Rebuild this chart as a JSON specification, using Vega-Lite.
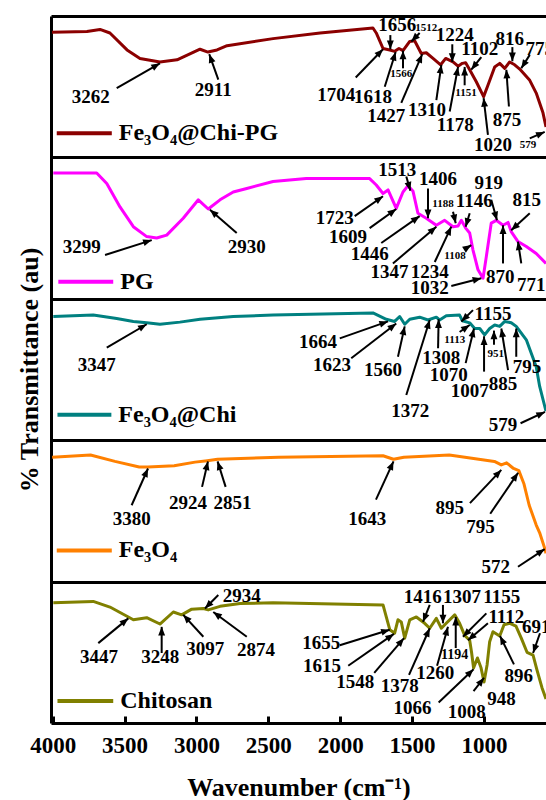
{
"$schema": "https://vega.github.io/schema/vega-lite/v6.json",
"width": 495, "height": 707,
"autosize": {"type": "none"},
"padding": {"left": 51, "top": 16, "right": 0, "bottom": 77},
"background": "white",
"config": {"view": {"stroke": null},
 "axis": {"labelFont": "Liberation Serif", "titleFont": "Liberation Serif", "labelFontWeight": "bold", "titleFontWeight": "bold", "labelColor": "black", "titleColor": "black", "domainColor": "black", "tickColor": "black"},
 "text": {"font": "Liberation Serif", "fontWeight": "bold", "color": "black"}},
"datasets": {
"spectra": [
{"s":"Fe₃O₄@Chi-PG","wn":4005,"v":97.7},{"s":"Fe₃O₄@Chi-PG","wn":3762,"v":97.8},{"s":"Fe₃O₄@Chi-PG","wn":3671,"v":98.1},{"s":"Fe₃O₄@Chi-PG","wn":3602,"v":97.6},{"s":"Fe₃O₄@Chi-PG","wn":3483,"v":95.2},{"s":"Fe₃O₄@Chi-PG","wn":3393,"v":94.0},{"s":"Fe₃O₄@Chi-PG","wn":3254,"v":93.5},{"s":"Fe₃O₄@Chi-PG","wn":3135,"v":93.8},{"s":"Fe₃O₄@Chi-PG","wn":2975,"v":95.3},{"s":"Fe₃O₄@Chi-PG","wn":2920,"v":94.9},{"s":"Fe₃O₄@Chi-PG","wn":2857,"v":95.2},{"s":"Fe₃O₄@Chi-PG","wn":2787,"v":95.8},{"s":"Fe₃O₄@Chi-PG","wn":2467,"v":96.8},{"s":"Fe₃O₄@Chi-PG","wn":2140,"v":97.6},{"s":"Fe₃O₄@Chi-PG","wn":1772,"v":98.3},{"s":"Fe₃O₄@Chi-PG","wn":1749,"v":97.6},{"s":"Fe₃O₄@Chi-PG","wn":1702,"v":95.4},{"s":"Fe₃O₄@Chi-PG","wn":1655,"v":95.2},{"s":"Fe₃O₄@Chi-PG","wn":1621,"v":95.0},{"s":"Fe₃O₄@Chi-PG","wn":1591,"v":95.4},{"s":"Fe₃O₄@Chi-PG","wn":1563,"v":95.1},{"s":"Fe₃O₄@Chi-PG","wn":1516,"v":96.4},{"s":"Fe₃O₄@Chi-PG","wn":1482,"v":96.5},{"s":"Fe₃O₄@Chi-PG","wn":1436,"v":94.7},{"s":"Fe₃O₄@Chi-PG","wn":1401,"v":94.8},{"s":"Fe₃O₄@Chi-PG","wn":1354,"v":94.0},{"s":"Fe₃O₄@Chi-PG","wn":1301,"v":93.1},{"s":"Fe₃O₄@Chi-PG","wn":1266,"v":94.0},{"s":"Fe₃O₄@Chi-PG","wn":1215,"v":93.5},{"s":"Fe₃O₄@Chi-PG","wn":1180,"v":92.9},{"s":"Fe₃O₄@Chi-PG","wn":1150,"v":93.3},{"s":"Fe₃O₄@Chi-PG","wn":1127,"v":93.4},{"s":"Fe₃O₄@Chi-PG","wn":1099,"v":92.4},{"s":"Fe₃O₄@Chi-PG","wn":1053,"v":90.7},{"s":"Fe₃O₄@Chi-PG","wn":1002,"v":88.6},{"s":"Fe₃O₄@Chi-PG","wn":972,"v":90.2},{"s":"Fe₃O₄@Chi-PG","wn":925,"v":92.8},{"s":"Fe₃O₄@Chi-PG","wn":890,"v":93.3},{"s":"Fe₃O₄@Chi-PG","wn":855,"v":92.6},{"s":"Fe₃O₄@Chi-PG","wn":821,"v":93.5},{"s":"Fe₃O₄@Chi-PG","wn":786,"v":93.1},{"s":"Fe₃O₄@Chi-PG","wn":751,"v":92.5},{"s":"Fe₃O₄@Chi-PG","wn":681,"v":90.9},{"s":"Fe₃O₄@Chi-PG","wn":636,"v":89.1},{"s":"Fe₃O₄@Chi-PG","wn":589,"v":86.3},{"s":"Fe₃O₄@Chi-PG","wn":568,"v":84.3},
{"s":"PG","wn":3996,"v":77.8},{"s":"PG","wn":3694,"v":77.8},{"s":"PG","wn":3624,"v":76.3},{"s":"PG","wn":3532,"v":73.0},{"s":"PG","wn":3439,"v":70.2},{"s":"PG","wn":3346,"v":68.8},{"s":"PG","wn":3277,"v":68.6},{"s":"PG","wn":3207,"v":69.0},{"s":"PG","wn":3092,"v":71.4},{"s":"PG","wn":2987,"v":74.0},{"s":"PG","wn":2918,"v":72.7},{"s":"PG","wn":2836,"v":74.0},{"s":"PG","wn":2744,"v":75.1},{"s":"PG","wn":2650,"v":75.6},{"s":"PG","wn":2467,"v":76.6},{"s":"PG","wn":2236,"v":77.0},{"s":"PG","wn":1795,"v":77.0},{"s":"PG","wn":1749,"v":76.1},{"s":"PG","wn":1702,"v":74.9},{"s":"PG","wn":1667,"v":75.4},{"s":"PG","wn":1610,"v":72.8},{"s":"PG","wn":1563,"v":75.1},{"s":"PG","wn":1528,"v":76.0},{"s":"PG","wn":1493,"v":75.2},{"s":"PG","wn":1459,"v":72.1},{"s":"PG","wn":1401,"v":71.4},{"s":"PG","wn":1331,"v":70.4},{"s":"PG","wn":1273,"v":71.1},{"s":"PG","wn":1215,"v":70.2},{"s":"PG","wn":1180,"v":70.3},{"s":"PG","wn":1157,"v":71.1},{"s":"PG","wn":1127,"v":70.0},{"s":"PG","wn":1099,"v":69.3},{"s":"PG","wn":1076,"v":66.9},{"s":"PG","wn":1041,"v":64.1},{"s":"PG","wn":1006,"v":62.9},{"s":"PG","wn":983,"v":66.0},{"s":"PG","wn":949,"v":70.7},{"s":"PG","wn":914,"v":71.1},{"s":"PG","wn":867,"v":70.4},{"s":"PG","wn":832,"v":70.8},{"s":"PG","wn":810,"v":69.5},{"s":"PG","wn":763,"v":68.1},{"s":"PG","wn":705,"v":67.4},{"s":"PG","wn":636,"v":66.4},{"s":"PG","wn":568,"v":65.0},
{"s":"Fe₃O₄@Chi","wn":3996,"v":57.5},{"s":"Fe₃O₄@Chi","wn":3718,"v":57.7},{"s":"Fe₃O₄@Chi","wn":3555,"v":57.2},{"s":"Fe₃O₄@Chi","wn":3439,"v":56.8},{"s":"Fe₃O₄@Chi","wn":3346,"v":56.6},{"s":"Fe₃O₄@Chi","wn":3254,"v":56.4},{"s":"Fe₃O₄@Chi","wn":3115,"v":56.7},{"s":"Fe₃O₄@Chi","wn":2975,"v":57.1},{"s":"Fe₃O₄@Chi","wn":2744,"v":57.5},{"s":"Fe₃O₄@Chi","wn":2467,"v":57.7},{"s":"Fe₃O₄@Chi","wn":1772,"v":58.0},{"s":"Fe₃O₄@Chi","wn":1679,"v":57.1},{"s":"Fe₃O₄@Chi","wn":1621,"v":56.8},{"s":"Fe₃O₄@Chi","wn":1586,"v":57.5},{"s":"Fe₃O₄@Chi","wn":1551,"v":56.4},{"s":"Fe₃O₄@Chi","wn":1516,"v":57.1},{"s":"Fe₃O₄@Chi","wn":1447,"v":57.4},{"s":"Fe₃O₄@Chi","wn":1389,"v":57.0},{"s":"Fe₃O₄@Chi","wn":1331,"v":57.4},{"s":"Fe₃O₄@Chi","wn":1308,"v":57.0},{"s":"Fe₃O₄@Chi","wn":1262,"v":57.6},{"s":"Fe₃O₄@Chi","wn":1169,"v":57.7},{"s":"Fe₃O₄@Chi","wn":1150,"v":56.9},{"s":"Fe₃O₄@Chi","wn":1099,"v":56.6},{"s":"Fe₃O₄@Chi","wn":1064,"v":55.8},{"s":"Fe₃O₄@Chi","wn":1029,"v":55.8},{"s":"Fe₃O₄@Chi","wn":995,"v":54.9},{"s":"Fe₃O₄@Chi","wn":960,"v":55.8},{"s":"Fe₃O₄@Chi","wn":925,"v":56.3},{"s":"Fe₃O₄@Chi","wn":890,"v":56.1},{"s":"Fe₃O₄@Chi","wn":855,"v":56.8},{"s":"Fe₃O₄@Chi","wn":810,"v":56.6},{"s":"Fe₃O₄@Chi","wn":775,"v":56.1},{"s":"Fe₃O₄@Chi","wn":705,"v":54.2},{"s":"Fe₃O₄@Chi","wn":636,"v":50.4},{"s":"Fe₃O₄@Chi","wn":612,"v":47.6},{"s":"Fe₃O₄@Chi","wn":568,"v":44.1},
{"s":"Fe₃O₄","wn":4004,"v":37.6},{"s":"Fe₃O₄","wn":3737,"v":37.9},{"s":"Fe₃O₄","wn":3567,"v":37.0},{"s":"Fe₃O₄","wn":3398,"v":36.2},{"s":"Fe₃O₄","wn":3337,"v":36.2},{"s":"Fe₃O₄","wn":3155,"v":36.4},{"s":"Fe₃O₄","wn":3010,"v":36.9},{"s":"Fe₃O₄","wn":2925,"v":37.1},{"s":"Fe₃O₄","wn":2853,"v":37.3},{"s":"Fe₃O₄","wn":2428,"v":37.6},{"s":"Fe₃O₄","wn":1702,"v":37.8},{"s":"Fe₃O₄","wn":1629,"v":37.3},{"s":"Fe₃O₄","wn":1557,"v":37.6},{"s":"Fe₃O₄","wn":1241,"v":37.9},{"s":"Fe₃O₄","wn":927,"v":37.0},{"s":"Fe₃O₄","wn":879,"v":36.5},{"s":"Fe₃O₄","wn":842,"v":36.8},{"s":"Fe₃O₄","wn":794,"v":36.0},{"s":"Fe₃O₄","wn":757,"v":35.7},{"s":"Fe₃O₄","wn":721,"v":33.8},{"s":"Fe₃O₄","wn":685,"v":30.8},{"s":"Fe₃O₄","wn":636,"v":28.0},{"s":"Fe₃O₄","wn":612,"v":26.9},{"s":"Fe₃O₄","wn":577,"v":24.7},{"s":"Fe₃O₄","wn":568,"v":24.0},
{"s":"Chitosan","wn":3996,"v":17.0},{"s":"Chitosan","wn":3718,"v":17.2},{"s":"Chitosan","wn":3602,"v":16.4},{"s":"Chitosan","wn":3474,"v":15.0},{"s":"Chitosan","wn":3439,"v":14.6},{"s":"Chitosan","wn":3346,"v":14.9},{"s":"Chitosan","wn":3254,"v":14.0},{"s":"Chitosan","wn":3161,"v":15.7},{"s":"Chitosan","wn":3103,"v":15.3},{"s":"Chitosan","wn":3033,"v":16.1},{"s":"Chitosan","wn":2952,"v":16.2},{"s":"Chitosan","wn":2918,"v":16.0},{"s":"Chitosan","wn":2836,"v":16.5},{"s":"Chitosan","wn":2697,"v":16.9},{"s":"Chitosan","wn":2467,"v":17.0},{"s":"Chitosan","wn":1702,"v":16.7},{"s":"Chitosan","wn":1655,"v":13.2},{"s":"Chitosan","wn":1621,"v":12.7},{"s":"Chitosan","wn":1598,"v":14.6},{"s":"Chitosan","wn":1575,"v":14.3},{"s":"Chitosan","wn":1551,"v":12.0},{"s":"Chitosan","wn":1516,"v":14.6},{"s":"Chitosan","wn":1470,"v":15.0},{"s":"Chitosan","wn":1412,"v":14.1},{"s":"Chitosan","wn":1377,"v":13.4},{"s":"Chitosan","wn":1331,"v":14.8},{"s":"Chitosan","wn":1296,"v":13.4},{"s":"Chitosan","wn":1262,"v":14.1},{"s":"Chitosan","wn":1203,"v":15.3},{"s":"Chitosan","wn":1169,"v":14.1},{"s":"Chitosan","wn":1134,"v":12.4},{"s":"Chitosan","wn":1099,"v":11.7},{"s":"Chitosan","wn":1086,"v":10.0},{"s":"Chitosan","wn":1072,"v":7.8},{"s":"Chitosan","wn":1045,"v":9.2},{"s":"Chitosan","wn":1020,"v":7.8},{"s":"Chitosan","wn":999,"v":5.8},{"s":"Chitosan","wn":978,"v":8.2},{"s":"Chitosan","wn":960,"v":11.5},{"s":"Chitosan","wn":937,"v":12.9},{"s":"Chitosan","wn":890,"v":12.3},{"s":"Chitosan","wn":860,"v":13.9},{"s":"Chitosan","wn":819,"v":14.1},{"s":"Chitosan","wn":777,"v":13.7},{"s":"Chitosan","wn":740,"v":12.0},{"s":"Chitosan","wn":700,"v":10.0},{"s":"Chitosan","wn":658,"v":9.6},{"s":"Chitosan","wn":631,"v":7.5},{"s":"Chitosan","wn":596,"v":5.0},{"s":"Chitosan","wn":568,"v":3.4}
],
"labels": [
{"t":"3262","wn":3736,"v":88.6},{"t":"2911","wn":2883,"v":89.5},{"t":"1704","wn":2027,"v":88.8},{"t":"1618","wn":1772,"v":88.6},{"t":"1656","wn":1603,"v":98.7},{"t":"1427","wn":1679,"v":85.8},{"t":"1310","wn":1396,"v":86.7},{"t":"1224","wn":1203,"v":97.3},{"t":"1178","wn":1199,"v":84.6},{"t":"1102","wn":1029,"v":95.3},{"t":"1020","wn":937,"v":81.8},{"t":"875","wn":840,"v":85.3},{"t":"816","wn":821,"v":96.8},{"t":"775","wn":612,"v":95.4},
{"t":"3299","wn":3798,"v":67.3},{"t":"2930","wn":2650,"v":67.3},{"t":"1723","wn":2038,"v":71.4},{"t":"1609","wn":1946,"v":68.8},{"t":"1513","wn":1603,"v":78.2},{"t":"1406","wn":1319,"v":77.0},{"t":"1446","wn":1795,"v":66.4},{"t":"1347","wn":1656,"v":63.8},{"t":"1234","wn":1377,"v":63.8},{"t":"1146","wn":1067,"v":73.8},{"t":"919","wn":967,"v":76.4},{"t":"870","wn":887,"v":63.1},{"t":"815","wn":702,"v":74.0},{"t":"771","wn":670,"v":62.0},{"t":"1032","wn":1377,"v":61.5},
{"t":"3347","wn":3694,"v":50.6},{"t":"1664","wn":2154,"v":53.9},{"t":"1623","wn":2057,"v":50.6},{"t":"1560","wn":1702,"v":49.9},{"t":"1372","wn":1513,"v":44.1},{"t":"1308","wn":1296,"v":51.6},{"t":"1155","wn":937,"v":57.9},{"t":"1070","wn":1245,"v":49.2},{"t":"1007","wn":1099,"v":47.0},{"t":"885","wn":867,"v":48.0},{"t":"795","wn":700,"v":50.4},{"t":"579","wn":867,"v":42.2},
{"t":"3380","wn":3451,"v":28.9},{"t":"2924","wn":3059,"v":31.1},{"t":"2851","wn":2749,"v":31.1},{"t":"1643","wn":1811,"v":28.9},{"t":"895","wn":1237,"v":30.4},{"t":"795","wn":1024,"v":27.7},{"t":"572","wn":918,"v":22.1},
{"t":"2934","wn":2685,"v":18.0},{"t":"3447","wn":3678,"v":9.3},{"t":"3248","wn":3252,"v":9.3},{"t":"3097","wn":2938,"v":10.5},{"t":"2874","wn":2586,"v":10.3},{"t":"1655","wn":2131,"v":11.3},{"t":"1615","wn":2126,"v":8.1},{"t":"1548","wn":1896,"v":5.8},{"t":"1378","wn":1586,"v":5.3},{"t":"1416","wn":1426,"v":17.8},{"t":"1307","wn":1152,"v":17.8},{"t":"1155","wn":876,"v":17.8},{"t":"1112","wn":844,"v":15.0},{"t":"1260","wn":1339,"v":7.1},{"t":"1066","wn":1496,"v":2.1},{"t":"1008","wn":1120,"v":1.5},{"t":"948","wn":878,"v":3.4},{"t":"896","wn":757,"v":6.6},{"t":"691","wn":636,"v":13.6}
],
"smallLabels": [
{"t":"1566","wn":1575,"v":91.8},{"t":"1512","wn":1401,"v":98.3},{"t":"1151","wn":1125,"v":89.1},{"t":"579","wn":693,"v":81.8},
{"t":"1188","wn":1285,"v":73.4},{"t":"1108","wn":1201,"v":66.0},
{"t":"1113","wn":1203,"v":54.2},{"t":"951","wn":918,"v":52.2}
],
"midLabels": [
{"t":"1194","wn":1203,"v":9.6}
],
"arrows": [
{"wn":3555,"v":89.8,"wn2":3254,"v2":93.3},{"wn":2848,"v":91.0,"wn2":2911,"v2":94.6},{"wn":1892,"v":91.3,"wn2":1702,"v2":95.3},{"wn":1690,"v":90.0,"wn2":1614,"v2":94.9},{"wn":1651,"v":97.3,"wn2":1651,"v2":95.3},{"wn":1563,"v":92.6,"wn2":1563,"v2":95.1},{"wn":1447,"v":97.6,"wn2":1505,"v2":96.4},{"wn":1575,"v":87.7,"wn2":1429,"v2":94.6},{"wn":1331,"v":88.1,"wn2":1296,"v2":93.1},{"wn":1220,"v":96.0,"wn2":1220,"v2":93.5},{"wn":1238,"v":86.5,"wn2":1180,"v2":92.8},{"wn":1134,"v":90.2,"wn2":1134,"v2":92.8},{"wn":1018,"v":94.2,"wn2":1088,"v2":92.4},{"wn":972,"v":83.2,"wn2":1002,"v2":88.4},{"wn":826,"v":87.2,"wn2":844,"v2":92.4},{"wn":802,"v":95.6,"wn2":802,"v2":93.6},{"wn":681,"v":94.5,"wn2":740,"v2":92.6},{"wn":681,"v":82.7,"wn2":577,"v2":83.6},
{"wn":3636,"v":66.2,"wn2":3311,"v2":68.3},{"wn":2720,"v":69.3,"wn2":2906,"v2":72.6},{"wn":1899,"v":71.7,"wn2":1702,"v2":74.5},{"wn":1795,"v":70.0,"wn2":1610,"v2":72.7},{"wn":1540,"v":77.3,"wn2":1512,"v2":75.3},{"wn":1389,"v":75.6,"wn2":1389,"v2":71.4},{"wn":1714,"v":67.9,"wn2":1447,"v2":71.7},{"wn":1633,"v":65.0,"wn2":1331,"v2":70.2},{"wn":1342,"v":65.2,"wn2":1227,"v2":70.2},{"wn":1215,"v":72.3,"wn2":1196,"v2":70.7},{"wn":1099,"v":72.1,"wn2":1127,"v2":70.2},{"wn":1134,"v":67.0,"wn2":1088,"v2":67.6},{"wn":949,"v":74.0,"wn2":909,"v2":71.1},{"wn":867,"v":65.0,"wn2":867,"v2":70.4},{"wn":681,"v":72.1,"wn2":810,"v2":69.7},{"wn":740,"v":65.0,"wn2":763,"v2":68.1},{"wn":1227,"v":61.8,"wn2":1018,"v2":62.9},
{"wn":3624,"v":53.1,"wn2":3346,"v2":56.4},{"wn":2003,"v":54.4,"wn2":1667,"v2":56.8},{"wn":1923,"v":51.6,"wn2":1610,"v2":56.5},{"wn":1598,"v":51.8,"wn2":1551,"v2":56.1},{"wn":1540,"v":46.4,"wn2":1377,"v2":57.0},{"wn":1319,"v":53.0,"wn2":1315,"v2":57.1},{"wn":1169,"v":55.3,"wn2":1099,"v2":56.3},{"wn":1076,"v":58.4,"wn2":1157,"v2":56.8},{"wn":1127,"v":50.9,"wn2":1069,"v2":55.8},{"wn":999,"v":49.7,"wn2":999,"v2":54.7},{"wn":930,"v":53.5,"wn2":930,"v2":55.5},{"wn":832,"v":49.9,"wn2":879,"v2":55.8},{"wn":775,"v":51.8,"wn2":775,"v2":55.8},{"wn":745,"v":42.4,"wn2":575,"v2":44.0},
{"wn":3451,"v":30.8,"wn2":3337,"v2":36.0},{"wn":2961,"v":33.4,"wn2":2920,"v2":37.0},{"wn":2797,"v":33.4,"wn2":2853,"v2":37.0},{"wn":1751,"v":31.6,"wn2":1629,"v2":37.0},{"wn":1097,"v":31.1,"wn2":879,"v2":35.8},{"wn":956,"v":29.6,"wn2":762,"v2":35.4},{"wn":763,"v":22.1,"wn2":577,"v2":24.6},
{"wn":2848,"v":18.1,"wn2":2941,"v2":16.2},{"wn":3683,"v":11.3,"wn2":3474,"v2":14.8},{"wn":3242,"v":9.9,"wn2":3242,"v2":13.6},{"wn":2952,"v":12.2,"wn2":3092,"v2":15.3},{"wn":2650,"v":12.2,"wn2":2883,"v2":15.7},{"wn":2003,"v":11.0,"wn2":1655,"v2":13.2},{"wn":1944,"v":8.1,"wn2":1626,"v2":12.6},{"wn":1763,"v":7.1,"wn2":1556,"v2":12.0},{"wn":1521,"v":6.8,"wn2":1377,"v2":13.4},{"wn":1377,"v":16.7,"wn2":1424,"v2":14.3},{"wn":1285,"v":16.7,"wn2":1285,"v2":14.1},{"wn":1196,"v":10.6,"wn2":1196,"v2":15.0},{"wn":983,"v":15.5,"wn2":1146,"v2":12.2},{"wn":972,"v":14.1,"wn2":1111,"v2":11.7},{"wn":1326,"v":8.1,"wn2":1250,"v2":13.6},{"wn":1315,"v":2.9,"wn2":1072,"v2":7.6},{"wn":1072,"v":4.5,"wn2":999,"v2":6.4},{"wn":791,"v":8.3,"wn2":888,"v2":12.3},{"wn":610,"v":12.7,"wn2":658,"v2":9.9}
],
"legend": [
{"s":"Fe₃O₄@Chi-PG","wn":3972,"wn2":3589,"v":83.4},
{"s":"PG","wn":3961,"wn2":3579,"v":62.4},
{"s":"Fe₃O₄@Chi","wn":3967,"wn2":3592,"v":43.6},
{"s":"Fe₃O₄","wn":3972,"wn2":3589,"v":24.4},
{"s":"Chitosan","wn":3967,"wn2":3579,"v":3.1}
]
},
"layer": [
{"data": {"name": "spectra"},
 "mark": {"type": "line", "strokeWidth": 3, "strokeJoin": "round"},
 "encoding": {
  "x": {"field": "wn", "type": "quantitative", "scale": {"domain": [4012, 568], "nice": false, "zero": false},
   "title": "Wavenumber (cm⁻¹)",
   "axis": {"values": [4000,3500,3000,2500,2000,1500,1000], "format": "d", "grid": false, "domainWidth": 3, "tickSize": -7, "tickWidth": 3, "labelFontSize": 23, "labelPadding": 18, "labelFlush": false, "labelOverlap": false, "titleFontSize": 26, "titlePadding": 17}},
  "y": {"field": "v", "type": "quantitative", "scale": {"domain": [0, 100], "nice": false, "zero": false},
   "title": "% Transmittance (au)",
   "axis": {"values": [20,40,60,80,100], "grid": true, "gridColor": "black", "gridWidth": 3, "gridOpacity": 1, "ticks": false, "labels": false, "domain": true, "domainWidth": 3, "titleFontSize": 26, "titlePadding": 9}},
  "color": {"field": "s", "type": "nominal", "legend": null,
   "scale": {"domain": ["Fe₃O₄@Chi-PG","PG","Fe₃O₄@Chi","Fe₃O₄","Chitosan"], "range": ["#8B0000","#FF00FF","#008080","#FF8000","#808000"]}}
 }},
{"data": {"name": "arrows"},
 "mark": {"type": "rule", "strokeWidth": 2, "color": "black"},
 "encoding": {
  "x": {"field": "wn", "type": "quantitative", "title": "Wavenumber (cm⁻¹)"},
  "y": {"field": "v", "type": "quantitative", "title": "% Transmittance (au)"},
  "x2": {"field": "wn2"}, "y2": {"field": "v2"}
 }},
{"data": {"name": "arrows"},
 "transform": [{"calculate": "atan2(-(datum.wn2-datum.wn)*0.14373,(datum.v2-datum.v)*7.07)*180/PI", "as": "ang"}],
 "mark": {"type": "point", "shape": "M0,0L-0.4,1L0.4,1Z", "filled": true, "color": "black", "opacity": 1, "size": 300, "strokeWidth": 0},
 "encoding": {
  "x": {"field": "wn2", "type": "quantitative", "title": "Wavenumber (cm⁻¹)"},
  "y": {"field": "v2", "type": "quantitative", "title": "% Transmittance (au)"},
  "angle": {"field": "ang", "type": "quantitative", "scale": null}
 }},
{"data": {"name": "labels"},
 "mark": {"type": "text", "fontSize": 19, "align": "center", "baseline": "middle"},
 "encoding": {
  "x": {"field": "wn", "type": "quantitative", "title": "Wavenumber (cm⁻¹)"},
  "y": {"field": "v", "type": "quantitative", "title": "% Transmittance (au)"},
  "text": {"field": "t"}
 }},
{"data": {"name": "smallLabels"},
 "mark": {"type": "text", "fontSize": 11, "align": "center", "baseline": "middle"},
 "encoding": {
  "x": {"field": "wn", "type": "quantitative", "title": "Wavenumber (cm⁻¹)"},
  "y": {"field": "v", "type": "quantitative", "title": "% Transmittance (au)"},
  "text": {"field": "t"}
 }},
{"data": {"name": "midLabels"},
 "mark": {"type": "text", "fontSize": 14, "align": "center", "baseline": "middle"},
 "encoding": {
  "x": {"field": "wn", "type": "quantitative", "title": "Wavenumber (cm⁻¹)"},
  "y": {"field": "v", "type": "quantitative", "title": "% Transmittance (au)"},
  "text": {"field": "t"}
 }},
{"data": {"name": "legend"},
 "mark": {"type": "rule", "strokeWidth": 4},
 "encoding": {
  "x": {"field": "wn", "type": "quantitative", "title": "Wavenumber (cm⁻¹)"},
  "x2": {"field": "wn2"},
  "y": {"field": "v", "type": "quantitative", "title": "% Transmittance (au)"},
  "color": {"field": "s", "type": "nominal", "legend": null}
 }},
{"data": {"name": "legend"},
 "mark": {"type": "text", "fontSize": 24, "align": "left", "baseline": "middle", "dx": 7},
 "encoding": {
  "x": {"field": "wn2", "type": "quantitative", "title": "Wavenumber (cm⁻¹)"},
  "y": {"field": "v", "type": "quantitative", "title": "% Transmittance (au)"},
  "text": {"field": "s"}
 }}
]
}
